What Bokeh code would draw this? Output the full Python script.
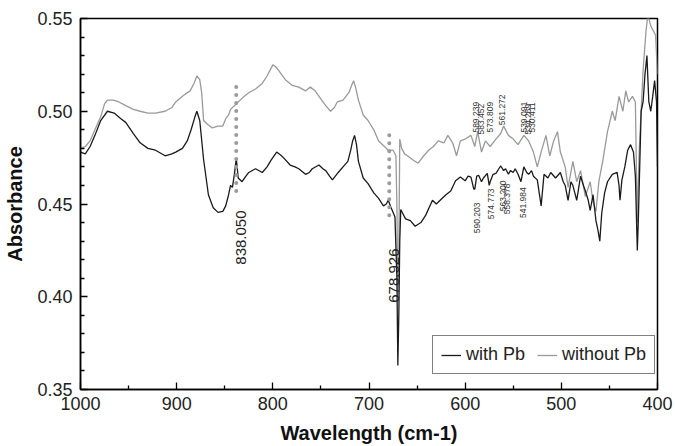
import math
from bokeh.plotting import figure
from bokeh.models import Range1d, FixedTicker, Legend, LegendItem
from bokeh.core.properties import value
from bokeh.embed import file_html
from bokeh.resources import INLINE

# ---- data: with Pb (black) ----
wn_pb = [1000, 995, 990, 985, 979, 972, 965, 958, 953, 945, 938, 930, 922, 912, 905, 901, 894, 889, 885, 881,
         879, 876, 872, 867, 862, 857, 852, 849, 846, 844, 842, 840, 838, 836, 832, 828, 825, 818, 811, 806,
         802, 796, 791, 789, 782, 777, 773, 766, 762, 759, 752, 748, 745, 741, 738, 732, 727, 722, 719, 717,
         715, 713, 711, 706, 701, 695, 690, 685, 682, 680, 677, 673, 671, 670, 669, 668, 667, 665, 662, 657,
         652, 646, 641, 634, 630, 626, 620, 615, 610, 605, 600, 597, 594, 591, 590, 588, 586, 583, 581, 577,
         575, 574, 571, 568, 565, 563, 560, 558, 555, 553, 550, 548, 545, 542, 539, 536, 534, 531, 529, 525,
         521, 518, 514, 511, 506, 501, 498, 496, 493, 490, 488, 484, 480, 477, 475, 472, 470, 467, 464, 462,
         460, 458, 455, 452, 447, 442, 440, 439, 437, 434, 431, 428, 425, 423, 421, 420, 418, 417, 415, 413,
         411, 409, 407, 405, 403, 401, 400]
ab_pb = [0.478, 0.477, 0.481, 0.487, 0.495, 0.500, 0.499, 0.496, 0.494, 0.488, 0.483, 0.480, 0.479, 0.476, 0.477, 0.478, 0.480, 0.484, 0.490, 0.497,
         0.500, 0.495, 0.474, 0.455, 0.448, 0.4455, 0.446, 0.449, 0.455, 0.460, 0.459, 0.466, 0.4745, 0.464, 0.462, 0.465, 0.467, 0.469, 0.467, 0.470,
         0.4735, 0.478, 0.476, 0.475, 0.471, 0.470, 0.469, 0.466, 0.467, 0.469, 0.471, 0.469, 0.468, 0.465, 0.463, 0.467, 0.470, 0.473, 0.479, 0.484,
         0.487, 0.482, 0.473, 0.464, 0.461, 0.456, 0.453, 0.449, 0.450, 0.452, 0.448, 0.443, 0.410, 0.363, 0.390, 0.430, 0.447, 0.445, 0.442, 0.441,
         0.438, 0.440, 0.444, 0.452, 0.450, 0.452, 0.455, 0.457, 0.4625, 0.4645, 0.4625, 0.465, 0.4645, 0.458, 0.458, 0.465, 0.4655, 0.462, 0.464, 0.4665,
         0.460, 0.462, 0.466, 0.4665, 0.469, 0.4705, 0.468, 0.469, 0.466, 0.468, 0.467, 0.469, 0.466, 0.462, 0.470, 0.467, 0.466, 0.468, 0.465, 0.463,
         0.449, 0.466, 0.464, 0.467, 0.464, 0.467, 0.462, 0.460, 0.452, 0.462, 0.460, 0.452, 0.465, 0.460, 0.457, 0.452, 0.4465, 0.455, 0.441, 0.436,
         0.430, 0.445, 0.456, 0.462, 0.466, 0.467, 0.460, 0.452, 0.463, 0.470, 0.479, 0.482, 0.478, 0.465, 0.425, 0.440, 0.480, 0.500, 0.505, 0.520,
         0.530, 0.505, 0.500, 0.508, 0.5165, 0.505, 0.470]

# ---- data: without Pb (gray) ----
wn_nopb = [1000, 995, 990, 985, 979, 975, 972, 966, 960, 953, 945, 938, 930, 922, 912, 905, 901, 893, 886, 882,
           879, 876, 874, 872, 868, 863, 857, 852, 849, 846, 844, 840, 834, 830, 825, 818, 811, 806, 800, 797,
           794, 787, 780, 773, 766, 761, 756, 752, 745, 740, 736, 733, 727, 721, 718, 716, 714, 711, 706, 701,
           695, 690, 685, 680, 675, 672, 671, 670, 669, 668, 666, 663, 660, 655, 649, 643, 638, 633, 628, 622,
           618, 613, 609, 605, 600, 594, 590, 587, 583, 579, 574, 568, 563, 560, 555, 550, 545, 539, 534, 529,
           525, 521, 516, 512, 508, 504, 501, 496, 493, 488, 484, 480, 475, 470, 467, 464, 461, 457, 452, 447,
           444, 440, 436, 433, 430, 426, 423, 421, 419, 415, 412, 410, 407, 404, 402, 400]
ab_nopb = [0.480, 0.481, 0.484, 0.490, 0.497, 0.504, 0.506, 0.506, 0.505, 0.503, 0.501, 0.500, 0.499, 0.499, 0.500, 0.502, 0.505, 0.5085, 0.511, 0.515,
           0.519, 0.517, 0.510, 0.495, 0.493, 0.491, 0.492, 0.492, 0.496, 0.498, 0.501, 0.503, 0.506, 0.508, 0.510, 0.512, 0.515, 0.519, 0.525, 0.524,
           0.522, 0.517, 0.514, 0.513, 0.511, 0.513, 0.511, 0.508, 0.503, 0.500, 0.502, 0.505, 0.506, 0.510, 0.514, 0.5165, 0.513, 0.506, 0.498, 0.495,
           0.490, 0.484, 0.4815, 0.479, 0.479, 0.476, 0.450, 0.400, 0.420, 0.485, 0.480, 0.477, 0.476, 0.474, 0.472, 0.476, 0.479, 0.481, 0.484, 0.483,
           0.487, 0.483, 0.476, 0.484, 0.485, 0.487, 0.481, 0.489, 0.478, 0.484, 0.481, 0.485, 0.488, 0.492, 0.487, 0.485, 0.482, 0.487, 0.484, 0.478,
           0.470, 0.478, 0.487, 0.476, 0.484, 0.489, 0.478, 0.470, 0.459, 0.473, 0.462, 0.468, 0.454, 0.462, 0.451, 0.446, 0.462, 0.473, 0.489, 0.500,
           0.495, 0.508, 0.500, 0.511, 0.505, 0.508, 0.505, 0.440, 0.479, 0.522, 0.543, 0.552, 0.546, 0.543, 0.541, 0.520]

# ---- ticks ----
x_ticks = [1000, 900, 800, 700, 600, 500, 400]
x_minor = [950, 850, 750, 650, 550, 450]
x_tick_labels = ["1000", "900", "800", "700", "600", "500", "400"]
y_ticks = [0.35, 0.40, 0.45, 0.50, 0.55]
y_minor = [0.36, 0.37, 0.38, 0.39, 0.41, 0.42, 0.43, 0.44, 0.46, 0.47, 0.48, 0.49, 0.51, 0.52, 0.53, 0.54]
y_tick_labels = ["0.35", "0.40", "0.45", "0.50", "0.55"]

# ---- annotations ----
mark_wn = [838.050, 678.926]
mark_lo = [0.457, 0.444]
mark_hi = [0.514, 0.4885]
mark_text = ["838.050", "678.926"]
mark_text_top = [0.4465, 0.426]

upper_wn = [589.239, 583.452, 573.809, 561.272, 539.091, 534.269, 530.411]
upper_text = ["589.239", "583.452", "573.809", "561.272", "539.091", "534.269", "530.411"]
upper_bottom = [0.4885, 0.4875, 0.4885, 0.4925, 0.4885, 0.4875, 0.4885]

lower_wn = [590.203, 574.773, 563.200, 558.378, 541.984]
lower_text = ["590.203", "574.773", "563.200", "558.378", "541.984"]
lower_top = [0.4508, 0.4584, 0.4627, 0.461, 0.459]

FONT = "Liberation Sans"

p = figure(width=675, height=446, output_backend="svg", toolbar_location=None,
           x_range=Range1d(1000, 400), y_range=Range1d(0.35, 0.55),
           min_border_left=80, min_border_right=18, min_border_top=18, min_border_bottom=57)
p.xgrid.visible = False
p.ygrid.visible = False
p.outline_line_color = "black"
p.outline_line_width = 1.5
p.outline_line_alpha = 1.0
p.background_fill_color = "white"
p.border_fill_color = "white"

r_gray = p.line(wn_nopb, ab_nopb, line_color="#9a9a9a", line_width=1.3)
r_black = p.line(wn_pb, ab_pb, line_color="#1a1a1a", line_width=1.3)

p.segment(x0=mark_wn, y0=mark_lo, x1=mark_wn, y1=mark_hi, line_color="#9a9a9a",
          line_width=4, line_dash="0 8", line_cap="round")

p.text(x=mark_wn, y=mark_text_top, text=mark_text, angle=math.pi / 2, x_offset=5,
       text_align="right", text_baseline="middle", text_font=value(FONT),
       text_font_size="15px", text_color="#222222")
p.text(x=upper_wn, y=upper_bottom, text=upper_text, angle=math.pi / 2,
       text_align="left", text_baseline="middle", text_font=value(FONT),
       text_font_size="8.5px", text_color="#333333")
p.text(x=lower_wn, y=lower_top, text=lower_text, angle=math.pi / 2, x_offset=2,
       text_align="right", text_baseline="middle", text_font=value(FONT),
       text_font_size="8.5px", text_color="#333333")

for ax, ticks, minor, labels in ((p.xaxis[0], x_ticks, x_minor, x_tick_labels),
                                 (p.yaxis[0], y_ticks, y_minor, y_tick_labels)):
    ax.ticker = FixedTicker(ticks=ticks, minor_ticks=minor)
    ax.major_label_overrides = {t: l for t, l in zip(ticks, labels)}
    ax.major_tick_in = 7
    ax.major_tick_out = 0
    ax.minor_tick_in = 4
    ax.minor_tick_out = 0
    ax.axis_line_color = "black"
    ax.axis_line_width = 1.5
    ax.major_tick_line_color = "black"
    ax.major_tick_line_width = 1.3
    ax.minor_tick_line_color = "black"
    ax.minor_tick_line_width = 1.3
    ax.major_label_text_font = FONT
    ax.major_label_text_font_size = "18px"
    ax.major_label_text_color = "#222222"
    ax.axis_label_text_font = FONT
    ax.axis_label_text_font_style = "bold"
    ax.axis_label_text_font_size = "20px"
    ax.axis_label_text_color = "#111111"

p.xaxis.axis_label = "Wavelength (cm-1)"
p.yaxis.axis_label = "Absorbance"
p.xaxis.major_label_standoff = 7
p.yaxis.major_label_standoff = 8
p.xaxis.axis_label_standoff = 9
p.yaxis.axis_label_standoff = 8

legend = Legend(items=[LegendItem(label="with Pb", renderers=[r_black]),
                       LegendItem(label="without Pb", renderers=[r_gray])],
                orientation="horizontal", location=(352, 15))
legend.border_line_color = "black"
legend.border_line_width = 1.5
legend.background_fill_color = "white"
legend.background_fill_alpha = 1.0
legend.label_text_font = FONT
legend.label_text_font_size = "18px"
legend.label_text_color = "#222222"
legend.glyph_width = 20
legend.label_standoff = 5
legend.spacing = 12
legend.padding = 8
legend.margin = 0
p.add_layout(legend)

open("out.html", "w").write(file_html(p, INLINE))
